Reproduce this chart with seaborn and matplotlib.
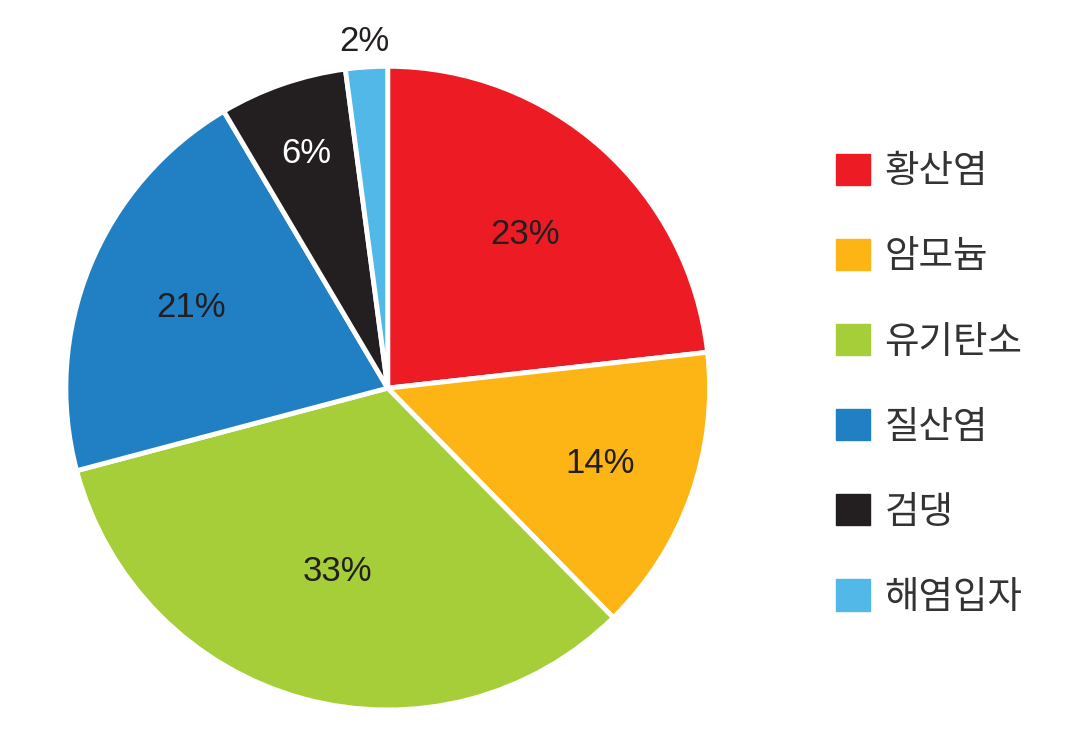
import numpy as np
import seaborn as sns
import matplotlib.pyplot as plt

# 미세먼지 성분 비율
labels = ['황산염', '암모늄', '유기탄소', '질산염', '검댕', '해염입자']
values = [23.2, 14.4, 33.2, 20.6, 6.4, 2.1]
pct_text = ['23%', '14%', '33%', '21%', '6%', '2%']
colors = ['#ED1C24', '#FCB514', '#A6CE39', '#2180C4', '#231F20', '#51B8E8']
text_colors = ['#231F20', '#231F20', '#231F20', '#231F20', 'white', '#231F20']
label_radius = [0.64, 0.70, 0.59, 0.66, 0.77, 1.08]

sns.set_theme(style='white')
plt.rcParams['font.family'] = ['Noto Sans CJK KR', 'DejaVu Sans']

fig = plt.figure(figsize=(10.8, 7.34), dpi=100)
ax = fig.add_axes([0.061, 0.0327, 0.596, 0.877])

wedges, _ = ax.pie(values, colors=colors, startangle=90, counterclock=False,
                   wedgeprops=dict(edgecolor='white', linewidth=3.5))
ax.set_xlim(-1.0, 1.0)
ax.set_ylim(-1.0, 1.0)
ax.set_aspect('equal')

for w, t, c, r in zip(wedges, pct_text, text_colors, label_radius):
    ang = np.deg2rad((w.theta1 + w.theta2) / 2)
    ax.text(r * np.cos(ang), r * np.sin(ang), t, ha='center', va='center',
            fontsize=25, color=c, family=['Liberation Sans', 'DejaVu Sans'])

handles = [plt.Rectangle((0, 0), 1, 1, color=c) for c in colors]
leg = fig.legend(handles, labels, loc='center left', bbox_to_anchor=(0.7426, 0.476),
                 frameon=False, fontsize=27, handlelength=0.9, handleheight=0.9,
                 labelspacing=1.23, handletextpad=0.4)
for txt in leg.get_texts():
    txt.set_color('#333333')

fig.savefig('out.png', dpi=100)
